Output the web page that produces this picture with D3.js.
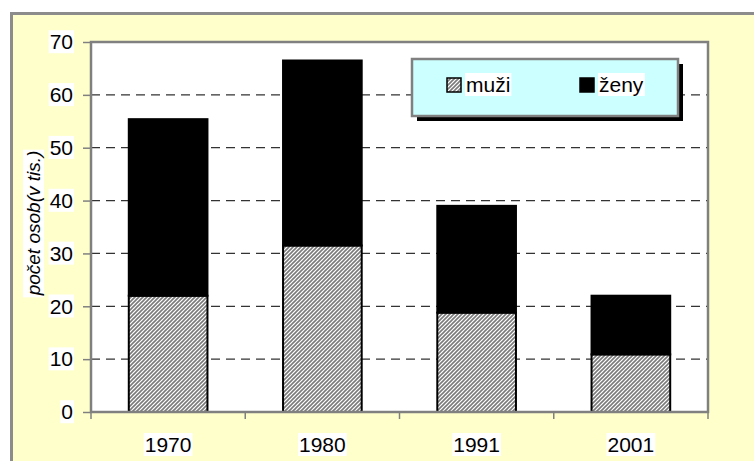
<!DOCTYPE html>
<html>
<head>
<meta charset="utf-8">
<script src="https://cdn.jsdelivr.net/npm/d3@7"></script>
<style>
  body { margin: 0; background: #fff; }
  svg { display: block; font-family: "Liberation Sans", Arial, sans-serif; }
</style>
</head>
<body>
<div id="chart"></div>
<script>
// data
var years = ["1970", "1980", "1991", "2001"];
var muzi = [22.0, 31.5, 18.8, 10.9];
var zeny = [33.4, 35.0, 20.2, 11.1];
var seriesNames = ["muži", "ženy"];
var yTicks = [0, 10, 20, 30, 40, 50, 60, 70];

var W = 754, H = 461;
var plot = { left: 91, top: 42, right: 708, bottom: 412 };

var svg = d3.select("#chart").append("svg")
    .attr("width", W)
    .attr("height", H);

var defs = svg.append("defs");
var pat = defs.append("pattern")
    .attr("id", "hatch")
    .attr("patternUnits", "userSpaceOnUse")
    .attr("width", 4)
    .attr("height", 4);
pat.append("rect").attr("width", 4).attr("height", 4).attr("fill", "#fff");
pat.append("path")
    .attr("d", "M-1,1 l2,-2 M0,4 l4,-4 M3,5 l2,-2")
    .attr("stroke", "#7a7a7a")
    .attr("stroke-width", 1.6);

// outer frame
svg.append("rect")
    .attr("x", 11.5).attr("y", 13.5)
    .attr("width", W + 20).attr("height", H + 20)
    .attr("fill", "#ffffcc")
    .attr("stroke", "#8c8c8c")
    .attr("stroke-width", 3);

// plot area
svg.append("rect")
    .attr("x", plot.left).attr("y", plot.top)
    .attr("width", plot.right - plot.left)
    .attr("height", plot.bottom - plot.top)
    .attr("fill", "#fff");

var x = d3.scaleBand()
    .domain(years)
    .range([plot.left, plot.right])
    .paddingInner(0.49)
    .paddingOuter(0.245);

var y = d3.scaleLinear()
    .domain([0, 70])
    .range([plot.bottom, plot.top]);

// gridlines
svg.append("g")
    .selectAll("line")
    .data(yTicks.filter(function (d) { return d > 0 && d < 70; }))
    .enter()
    .append("line")
    .attr("x1", plot.left).attr("x2", plot.right)
    .attr("y1", function (d) { return y(d); })
    .attr("y2", function (d) { return y(d); })
    .attr("stroke", "#333")
    .attr("stroke-width", 1.2)
    .attr("stroke-dasharray", "9,6");

// bars
var table = years.map(function (d, i) {
    return { year: d, "muži": muzi[i], "ženy": zeny[i] };
});
var stacked = d3.stack().keys(seriesNames)(table);
var fills = { "muži": "url(#hatch)", "ženy": "#000" };

svg.append("g")
    .selectAll("g")
    .data(stacked)
    .enter()
    .append("g")
    .attr("fill", function (d) { return fills[d.key]; })
    .selectAll("rect")
    .data(function (d) { return d; })
    .enter()
    .append("rect")
    .attr("x", function (d) { return x(d.data.year); })
    .attr("y", function (d) { return y(d[1]); })
    .attr("width", x.bandwidth())
    .attr("height", function (d) { return y(d[0]) - y(d[1]); })
    .attr("stroke", "#000")
    .attr("stroke-width", 2);

// plot border
svg.append("rect")
    .attr("x", plot.left).attr("y", plot.top)
    .attr("width", plot.right - plot.left)
    .attr("height", plot.bottom - plot.top)
    .attr("fill", "none")
    .attr("stroke", "#808080")
    .attr("stroke-width", 2.5);

// y axis
var yAxis = svg.append("g")
    .attr("transform", "translate(" + plot.left + ",0)")
    .call(d3.axisLeft(y).tickValues(yTicks).tickSize(8).tickPadding(10));
yAxis.select(".domain").remove();
yAxis.selectAll(".tick line").attr("stroke", "#808080").attr("stroke-width", 1.5);
yAxis.selectAll(".tick text")
    .attr("font-size", 21)
    .attr("font-family", "Liberation Sans, Arial, sans-serif")
    .attr("fill", "#000");

// x axis: ticks on band edges, labels in band centres
var edges = years.map(function (d) { return x(d) - x.step() * x.paddingOuter(); });
edges.push(plot.right);
svg.append("g")
    .selectAll("line")
    .data(edges)
    .enter()
    .append("line")
    .attr("x1", function (d) { return d; })
    .attr("x2", function (d) { return d; })
    .attr("y1", plot.bottom)
    .attr("y2", plot.bottom + 7)
    .attr("stroke", "#808080")
    .attr("stroke-width", 1.5);

var xLabels = svg.append("g")
    .selectAll("text")
    .data(years)
    .enter()
    .append("text")
    .attr("x", function (d) { return x(d) + x.bandwidth() / 2; })
    .attr("y", 452)
    .attr("text-anchor", "middle")
    .attr("font-size", 21)
    .text(function (d) { return d; });

// y axis title
svg.append("text")
    .attr("class", "ytitle")
    .attr("transform", "translate(40," + ((plot.top + plot.bottom) / 2 - 4) + ") rotate(-90)")
    .attr("text-anchor", "middle")
    .attr("font-size", 19)
    .attr("font-style", "italic")
    .text("počet osob(v tis.)");

// white boxes behind texts
function whiteBack(sel) {
    sel.each(function () {
        var b = this.getBBox();
        var p = this.parentNode;
        var r = document.createElementNS("http://www.w3.org/2000/svg", "rect");
        r.setAttribute("x", b.x - 1);
        r.setAttribute("y", b.y);
        r.setAttribute("width", b.width + 2);
        r.setAttribute("height", b.height);
        r.setAttribute("fill", "#fff");
        var tr = this.getAttribute("transform");
        if (tr) r.setAttribute("transform", tr);
        p.insertBefore(r, this);
    });
}
whiteBack(yAxis.selectAll(".tick text"));
whiteBack(xLabels);
whiteBack(svg.selectAll(".ytitle"));

// legend
var lg = { x: 412, y: 59, w: 266, h: 57 };
var legend = svg.append("g");
legend.append("rect")
    .attr("x", lg.x + 5).attr("y", lg.y + 5)
    .attr("width", lg.w).attr("height", lg.h)
    .attr("fill", "#000");
legend.append("rect")
    .attr("x", lg.x).attr("y", lg.y)
    .attr("width", lg.w).attr("height", lg.h)
    .attr("fill", "#ccffff")
    .attr("stroke", "#808080")
    .attr("stroke-width", 2.5);

var legendX = [447, 580];
var items = legend.selectAll(".item")
    .data(seriesNames)
    .enter()
    .append("g")
    .attr("class", "item")
    .attr("transform", function (d, i) { return "translate(" + legendX[i] + ",78)"; });
items.append("rect")
    .attr("width", 14).attr("height", 14)
    .attr("fill", function (d) { return fills[d]; })
    .attr("stroke", "#000")
    .attr("stroke-width", 1.5);
var legendText = items.append("text")
    .attr("x", 19)
    .attr("y", 14)
    .attr("font-size", 21)
    .text(function (d) { return d; });
whiteBack(legendText);
</script>
</body>
</html>
